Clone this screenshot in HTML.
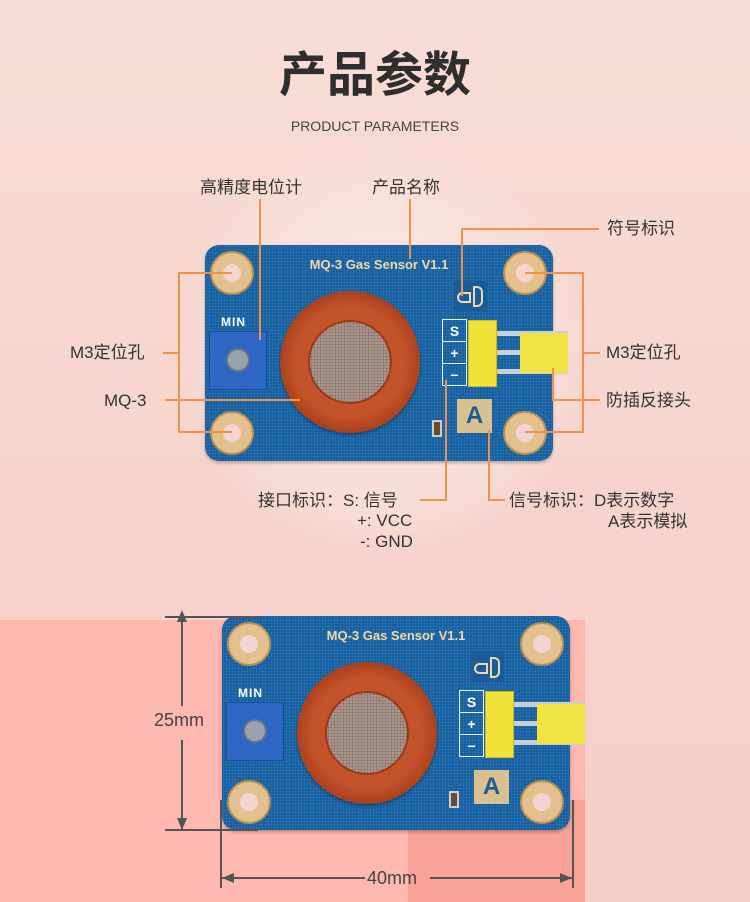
<!DOCTYPE html>
<html><head><meta charset="utf-8"><style>
*{margin:0;padding:0;box-sizing:border-box}
body{width:750px;height:902px;position:relative;overflow:hidden;font-family:"Liberation Sans","Noto Sans CJK SC",sans-serif;background:linear-gradient(180deg,#f8ddd6 0%,#f6d3cc 60%,#f5cfc7 100%)}
.a{position:absolute}
.t{position:absolute;color:#333;font-size:17px;white-space:nowrap;line-height:1}
.ol{position:absolute;background:#f0924a}
.dl{position:absolute;background:#555}
.board{position:absolute;width:348px;height:216px;background:#185e9c;border-radius:14px;
 background-image:radial-gradient(#2876b6 0.8px,transparent 1px);background-size:3px 3px;box-shadow:0 2px 3px rgba(0,0,0,.25)}
.hole{position:absolute;width:44px;height:44px;border-radius:50%;background:#e4c08e;border:2px solid #b8904f}
.hole::after{content:"";position:absolute;left:11px;top:11px;width:18px;height:18px;border-radius:50%;background:#f4d4ce}
.ttl{position:absolute;left:0;width:348px;top:12px;text-align:center;color:#f4d8a4;font-weight:bold;font-size:13px;font-family:"Liberation Sans",sans-serif}
.pot{position:absolute;left:4px;top:86px;width:58px;height:59px;background:#2e66c6;border:1px solid #1b4a96}
.knob{position:absolute;left:16px;top:16px;width:24px;height:24px;border-radius:50%;background:#9aa3ad;border:2px solid #6a747e}
.min{position:absolute;left:16px;top:70px;color:#fff;font-size:12px;font-weight:bold;letter-spacing:1px}
.ring{position:absolute;left:75px;top:46px;width:140px;height:142px;border-radius:50%;background:radial-gradient(circle,#c4532a 55%,#a8401c 72%);box-shadow:0 2px 3px rgba(0,0,0,.3)}
.mesh{position:absolute;left:28px;top:29px;width:84px;height:84px;border-radius:50%;background-image:radial-gradient(#7e6a62 0.7px,#a8958c 1px);background-size:3px 3px;border:2px solid #9c3a18}
.sym{position:absolute;left:248px;top:36px;width:34px;height:30px;background:#1a5c98}
.sym i{position:absolute;display:block;border:2px solid #f0d8a8}
.spm{position:absolute;left:237px;top:74px;width:25px;height:67px;border:1px solid #e8eef4}
.spm div{height:22px;border-bottom:1px solid #e8eef4;color:#fff;font-weight:bold;font-size:14px;text-align:center;line-height:22px}
.yc{position:absolute;left:263px;top:75px;width:29px;height:67px;background:#f1e33a;border:1px solid #c8b820}
.pin{position:absolute;left:292px;height:5px;width:71px;background:#c9cfd4}
.slv{position:absolute;left:315px;top:88px;width:48px;height:40px;background:#f2e344}
.abox{position:absolute;left:252px;top:154px;width:35px;height:34px;background:#d8c090;color:#1a5c98;font-size:24px;font-weight:bold;text-align:center;line-height:34px}
.cap{position:absolute;left:227px;top:175px;width:10px;height:17px;background:#6b4a32;border:2px solid #ccc}
.arr{position:absolute;width:0;height:0;border:5px solid transparent}
</style></head><body>
<div class="a" style="left:0;top:620px;width:585px;height:282px;background:#fdb8b0"></div>
<div class="a" style="left:408px;top:800px;width:177px;height:102px;background:#f8a298"></div>
<div class="a" style="left:185px;top:150px;width:400px;height:400px;border-radius:50%;background:radial-gradient(circle,rgba(255,240,236,.8) 0%,rgba(255,235,230,.3) 60%,rgba(255,235,230,0) 72%)"></div>

<div class="t" style="left:0;width:750px;text-align:center;top:52px;font-size:48px;font-weight:bold;color:#2e2e2e">产品参数</div>
<div class="t" style="left:0;width:750px;text-align:center;top:119px;font-size:14px;color:#444">PRODUCT PARAMETERS</div>

<!-- top board -->
<div class="board" style="left:205px;top:245px">
 <div class="hole" style="left:5px;top:6px"></div><div class="hole" style="left:298px;top:6px"></div>
 <div class="hole" style="left:5px;top:166px"></div><div class="hole" style="left:298px;top:166px"></div>
 <div class="ttl">MQ-3 Gas Sensor V1.1</div>
 <div class="min">MIN</div>
 <div class="pot"><div class="knob"></div></div>
 <div class="ring"><div class="mesh"></div></div>
 <div class="sym"><i style="left:4px;top:11px;width:14px;height:11px;border-radius:6px 0 0 6px"></i><i style="left:20px;top:5px;width:10px;height:21px;border-radius:0 6px 6px 0"></i></div>
 <div class="spm"><div>S</div><div>+</div><div style="border:0">−</div></div>
 <div class="pin" style="top:86px"></div><div class="pin" style="top:105px"></div><div class="pin" style="top:124px"></div>
 <div class="slv"></div>
 <div class="yc"></div>
 <div class="abox">A</div>
 <div class="cap"></div>
</div>

<!-- annotations -->
<div class="t" style="left:200px;top:179px">高精度电位计</div>
<div class="ol" style="left:259px;top:199px;width:2px;height:141px"></div>
<div class="t" style="left:372px;top:179px">产品名称</div>
<div class="ol" style="left:409px;top:199px;width:2px;height:60px"></div>
<div class="t" style="left:607px;top:220px">符号标识</div>
<div class="ol" style="left:461px;top:228px;width:138px;height:2px"></div>
<div class="ol" style="left:461px;top:228px;width:2px;height:68px"></div>
<div class="t" style="left:70px;top:344px">M3定位孔</div>
<div class="ol" style="left:163px;top:352px;width:16px;height:2px"></div>
<div class="ol" style="left:178px;top:272px;width:2px;height:161px"></div>
<div class="ol" style="left:178px;top:272px;width:54px;height:2px"></div>
<div class="ol" style="left:178px;top:431px;width:54px;height:2px"></div>
<div class="t" style="left:104px;top:392px">MQ-3</div>
<div class="ol" style="left:165px;top:399px;width:135px;height:2px"></div>
<div class="ol" style="left:525px;top:272px;width:59px;height:2px"></div>
<div class="ol" style="left:525px;top:431px;width:59px;height:2px"></div>
<div class="ol" style="left:582px;top:272px;width:2px;height:161px"></div>
<div class="ol" style="left:582px;top:352px;width:18px;height:2px"></div>
<div class="t" style="left:606px;top:344px">M3定位孔</div>
<div class="ol" style="left:552px;top:368px;width:2px;height:33px"></div>
<div class="ol" style="left:552px;top:399px;width:48px;height:2px"></div>
<div class="t" style="left:606px;top:392px">防插反接头</div>
<div class="ol" style="left:445px;top:380px;width:2px;height:121px"></div>
<div class="ol" style="left:420px;top:499px;width:27px;height:2px"></div>
<div class="t" style="left:258px;top:492px">接口标识：S: 信号</div>
<div class="t" style="left:357px;top:512px">+: VCC</div>
<div class="t" style="left:360px;top:533px">-: GND</div>
<div class="ol" style="left:488px;top:430px;width:2px;height:71px"></div>
<div class="ol" style="left:488px;top:499px;width:17px;height:2px"></div>
<div class="t" style="left:509px;top:492px">信号标识：D表示数字</div>
<div class="t" style="left:608px;top:513px">A表示模拟</div>

<!-- bottom board -->
<div class="board" style="left:222px;top:616px;height:214px">
 <div class="hole" style="left:5px;top:6px"></div><div class="hole" style="left:298px;top:6px"></div>
 <div class="hole" style="left:5px;top:164px"></div><div class="hole" style="left:298px;top:164px"></div>
 <div class="ttl">MQ-3 Gas Sensor V1.1</div>
 <div class="min">MIN</div>
 <div class="pot"><div class="knob"></div></div>
 <div class="ring"><div class="mesh"></div></div>
 <div class="sym"><i style="left:4px;top:11px;width:14px;height:11px;border-radius:6px 0 0 6px"></i><i style="left:20px;top:5px;width:10px;height:21px;border-radius:0 6px 6px 0"></i></div>
 <div class="spm"><div>S</div><div>+</div><div style="border:0">−</div></div>
 <div class="pin" style="top:86px"></div><div class="pin" style="top:105px"></div><div class="pin" style="top:124px"></div>
 <div class="slv"></div>
 <div class="yc"></div>
 <div class="abox">A</div>
 <div class="cap"></div>
</div>

<!-- dimensions -->
<div class="dl" style="left:165px;top:616px;width:93px;height:2px"></div>
<div class="dl" style="left:165px;top:829px;width:93px;height:2px"></div>
<div class="dl" style="left:181px;top:618px;width:2px;height:88px"></div>
<div class="dl" style="left:181px;top:740px;width:2px;height:89px"></div>
<div class="arr" style="left:177px;top:610px;border-bottom:12px solid #555;border-top:0"></div>
<div class="arr" style="left:177px;top:818px;border-top:12px solid #555;border-bottom:0"></div>
<div class="t" style="left:154px;top:711px;font-size:18px;color:#444">25mm</div>
<div class="dl" style="left:220px;top:800px;width:2px;height:88px"></div>
<div class="dl" style="left:572px;top:800px;width:2px;height:88px"></div>
<div class="dl" style="left:222px;top:877px;width:143px;height:2px"></div>
<div class="dl" style="left:430px;top:877px;width:142px;height:2px"></div>
<div class="arr" style="left:222px;top:873px;border-right:12px solid #555;border-left:0"></div>
<div class="arr" style="left:560px;top:873px;border-left:12px solid #555;border-right:0"></div>
<div class="t" style="left:367px;top:869px;font-size:18px;color:#444">40mm</div>
</body></html>
